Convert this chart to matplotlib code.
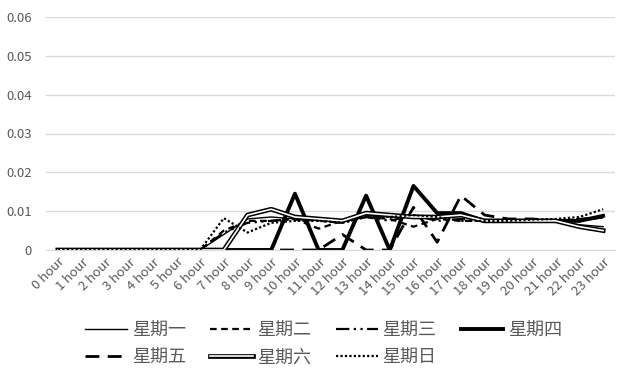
import matplotlib
matplotlib.use("Agg")
import matplotlib.pyplot as plt
import matplotlib.patheffects as pe

plt.rcParams['font.family'] = ['Noto Sans CJK SC', 'DejaVu Sans']

hours = [f"{h} hour" for h in range(24)]

mon = [0, 0, 0, 0, 0, 0, 0, 0.004, 0.008, 0.0085, 0.008, 0.008, 0.0075, 0.009,
       0.0085, 0.0085, 0.008, 0.009, 0.0075, 0.0075, 0.0075, 0.0075, 0.0065, 0.006]
tue = [0, 0, 0, 0, 0, 0, 0, 0.005, 0.0075, 0.0075, 0.008, 0.0055, 0.0075, 0.0085,
       0.008, 0.006, 0.008, 0.0075, 0.0075, 0.0075, 0.0075, 0.0075, 0.0075, 0.0085]
wed = [0, 0, 0, 0, 0, 0, 0, 0.0045, 0.007, 0.0075, 0.008, 0.0075, 0.007, 0.0085,
       0.0075, 0.009, 0.0075, 0.008, 0.0075, 0.0075, 0.0075, 0.0075, 0.008, 0.0085]
thu = [0, 0, 0, 0, 0, 0, 0, 0, 0, 0, 0.0145, 0, 0, 0.014,
       0, 0.0165, 0.0095, 0.0095, 0.0075, 0.0075, 0.0075, 0.0075, 0.0075, 0.0088]
fri = [0, 0, 0, 0, 0, 0, 0, 0, 0, 0, 0, 0, 0.004, 0,
       0, 0.011, 0.002, 0.014, 0.009, 0.008, 0.008, 0.0075, 0.0075, 0.0085]
sat = [0, 0, 0, 0, 0, 0, 0, 0, 0.009, 0.0105, 0.0085, 0.008, 0.0075, 0.0095,
       0.009, 0.0085, 0.0085, 0.009, 0.0075, 0.0075, 0.0075, 0.0075, 0.006, 0.005]
sun = [0, 0, 0, 0, 0, 0, 0, 0.0082, 0.0045, 0.007, 0.0075, 0.0075, 0.007, 0.0085,
       0.0085, 0.009, 0.0085, 0.0075, 0.0075, 0.0075, 0.0078, 0.008, 0.0085, 0.0105]

names = ["星期一", "星期二", "星期三", "星期四", "星期五", "星期六", "星期日"]
yticks = [0, 0.01, 0.02, 0.03, 0.04, 0.05, 0.06]
ytick_labels = ["0", "0.01", "0.02", "0.03", "0.04", "0.05", "0.06"]

fig = plt.figure(figsize=(6.22, 3.70), dpi=100)
ax = fig.add_axes([46 / 622, 1 - 250 / 370, (615 - 46) / 622, (250 - 17) / 370])

x = list(range(len(hours)))
lines = {}
lines["星期一"], = ax.plot(x, mon, color="black", lw=1.0, ls="-")
lines["星期二"], = ax.plot(x, tue, color="black", lw=1.6, ls=(0, (3, 2)))
lines["星期三"], = ax.plot(x, wed, color="black", lw=1.6, ls=(0, (6, 2, 1, 2, 1, 2)))
lines["星期四"], = ax.plot(x, thu, color="black", lw=2.8, ls="-")
lines["星期五"], = ax.plot(x, fri, color="black", lw=2.0, ls=(0, (5, 3)))
lines["星期六"], = ax.plot(x, sat, color="white", lw=1.2, ls="-",
                         path_effects=[pe.Stroke(linewidth=3.4, foreground="black"), pe.Normal()])
lines["星期日"], = ax.plot(x, sun, color="black", lw=1.6, ls=(0, (1, 1)))

ax.set_xlim(-0.5, 23.5)
ax.set_ylim(0, 0.06)
ax.set_yticks(yticks)
ax.set_yticklabels(ytick_labels)
ax.set_xticks(x)
ax.set_xticklabels(hours, rotation=45, ha="right", rotation_mode="anchor")
ax.grid(axis="y", color="#d9d9d9", lw=1.0)
ax.set_axisbelow(True)
for s in ["top", "right", "left"]:
    ax.spines[s].set_visible(False)
ax.spines["bottom"].set_color("#d9d9d9")
ax.tick_params(axis="both", length=0, colors="#595959", labelsize=9.5)
ax.tick_params(axis="y", pad=10)
ax.tick_params(axis="x", pad=4)

# two legend rows: 一二三四 / 五六日 (legend fills column by column)
order = ["星期一", "星期五", "星期二", "星期六", "星期三", "星期日", "星期四"]
leg = fig.legend([lines[n] for n in order], order, ncol=4, loc="upper center",
                 bbox_to_anchor=(0.52, 0.165), frameon=False, fontsize=13,
                 handlelength=2.35, handletextpad=0.25, columnspacing=1.35,
                 labelspacing=0.5, labelcolor="#595959", borderpad=0.2)

fig.savefig("out.png", dpi=100)
